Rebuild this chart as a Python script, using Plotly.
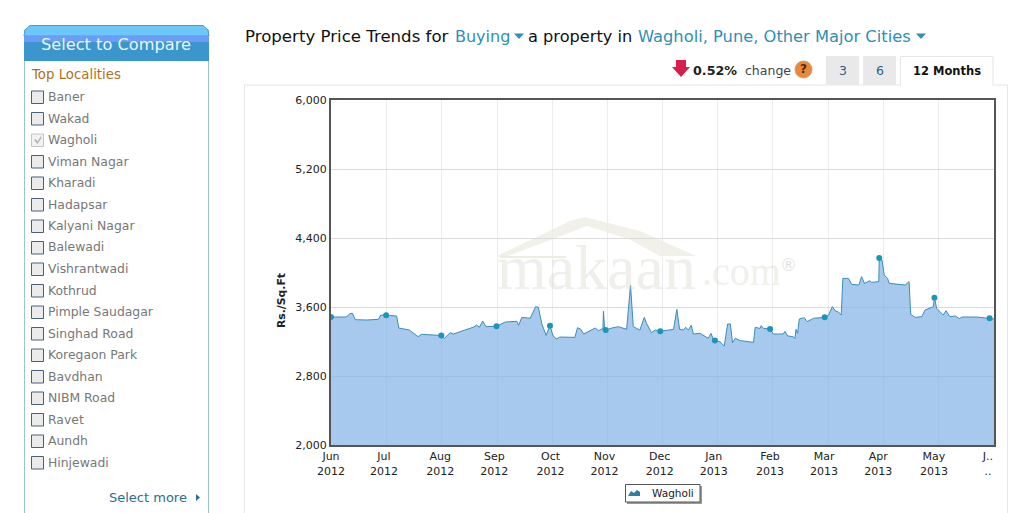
import plotly.graph_objects as go

W, H = 1032, 513

# months since Jun 2012 / price
months = [0.00, 0.28, 0.34, 0.39, 0.44, 0.65, 0.86, 0.90, 1.00, 1.19, 1.23, 1.42, 1.58, 1.64, 1.86, 2.00,
          2.05, 2.16, 2.22, 2.40, 2.59, 2.64, 2.69, 2.75, 2.81, 3.00, 3.16, 3.37, 3.40, 3.46, 3.61, 3.71,
          3.76, 3.82, 3.90, 3.97, 4.02, 4.08, 4.15, 4.42, 4.47, 4.53, 4.58, 4.79, 4.85, 4.93, 4.94, 4.96,
          4.98, 5.09, 5.21, 5.36, 5.43, 5.48, 5.60, 5.68, 5.72, 5.81, 5.88, 5.97, 6.21, 6.27, 6.32, 6.39,
          6.43, 6.48, 6.53, 6.57, 6.69, 6.84, 6.89, 6.93, 6.96, 7.05, 7.13, 7.19, 7.24, 7.28, 7.33, 7.42,
          7.66, 7.69, 7.78, 7.80, 7.84, 7.96, 8.02, 8.20, 8.23, 8.28, 8.38, 8.41, 8.43, 8.46, 8.49, 8.58,
          8.63, 8.75, 8.95, 9.02, 9.09, 9.14, 9.20, 9.25, 9.28, 9.38, 9.44, 9.57, 9.62, 9.67, 9.77, 9.80,
          9.93, 9.94, 9.99, 10.03, 10.09, 10.12, 10.32, 10.41, 10.48, 10.51, 10.59, 10.71, 10.77, 10.86,
          10.92, 10.94, 10.98, 11.10, 11.15, 11.22, 11.32, 11.39, 11.44, 11.71, 11.94, 12.02]
prices = [3484, 3484, 3523, 3527, 3453, 3449, 3457, 3507, 3503, 3496, 3356, 3333, 3256, 3283, 3275, 3271,
          3233, 3302, 3287, 3322, 3368, 3391, 3364, 3438, 3372, 3376, 3426, 3434, 3387, 3480, 3469, 3604,
          3596, 3411, 3271, 3384, 3275, 3229, 3252, 3248, 3360, 3341, 3287, 3356, 3325, 3352, 3554, 3352,
          3333, 3356, 3372, 3341, 3855, 3372, 3333, 3480, 3411, 3302, 3333, 3318, 3341, 3573, 3341, 3333,
          3364, 3333, 3387, 3287, 3295, 3237, 3295, 3225, 3213, 3198, 3148, 3403, 3403, 3186, 3237, 3210,
          3190, 3364, 3352, 3384, 3352, 3345, 3287, 3287, 3318, 3264, 3256, 3233, 3341, 3295, 3461, 3476,
          3430, 3469, 3480, 3507, 3604, 3557, 3542, 3507, 3932, 3932, 3863, 3855, 3952, 3874, 3905, 3886,
          3894, 4168, 4145, 3971, 3932, 3874, 3855, 3855, 3894, 3515, 3480, 3488, 3565, 3584, 3604, 3708,
          3584, 3507, 3557, 3488, 3496, 3465, 3484, 3484, 3469, 3461]

dot_months = [0.00, 1.00, 2.00, 3.00, 3.97, 4.98, 5.97, 6.96, 7.96, 8.95, 9.94, 10.94, 11.94]
dot_prices = [3484, 3503, 3271, 3376, 3384, 3333, 3318, 3213, 3345, 3480, 4168, 3708, 3469]

# the labels drift a little left of the gridlines in the original
tick_pos = [0, 0.96, 1.98, 2.96, 3.98, 4.96, 5.96, 6.94, 7.96, 8.94, 9.92, 10.93, 11.91]
tick_text = ["Jun<br>2012", "Jul<br>2012", "Aug<br>2012", "Sep<br>2012", "Oct<br>2012", "Nov<br>2012",
             "Dec<br>2012", "Jan<br>2013", "Feb<br>2013", "Mar<br>2013", "Apr<br>2013", "May<br>2013", "J..<br>.."]
grid_pos = [1.00, 2.00, 3.01, 4.01, 5.01, 6.01, 7.01, 8.01, 9.02, 10.02, 11.02]
y_ticks = [2000, 2800, 3600, 4400, 5200, 6000]

localities = ["Baner", "Wakad", "Wagholi", "Viman Nagar", "Kharadi", "Hadapsar", "Kalyani Nagar", "Balewadi",
              "Vishrantwadi", "Kothrud", "Pimple Saudagar", "Singhad Road", "Koregaon Park", "Bavdhan",
              "NIBM Road", "Ravet", "Aundh", "Hinjewadi"]

FONT = "DejaVu Sans"
BLUE = "#2f8fb5"


def px(x):
    return x / W


def py(y):
    return 1 - y / H


shapes = []
notes = []


def box(x0, y0, x1, y1, fill=None, line=None, lw=1, layer="above"):
    shapes.append(dict(type="rect", xref="paper", yref="paper", x0=px(x0), x1=px(x1), y0=py(y0), y1=py(y1),
                       fillcolor=fill, line=dict(color=line, width=lw if line else 0), layer=layer))


def poly(points, fill, line=None, layer="above", width=1):
    d = "M " + " L ".join(f"{px(a):.5f},{py(b):.5f}" for a, b in points) + " Z"
    shapes.append(dict(type="path", xref="paper", yref="paper", path=d, fillcolor=fill,
                       line=dict(color=line, width=width if line else 0), layer=layer))


def text(x, y, s, size=13, color="#666666", anchor="left", family=FONT, angle=0):
    notes.append(dict(xref="paper", yref="paper", x=px(x), y=py(y), text=s, showarrow=False, xanchor=anchor,
                      yanchor="middle", align=anchor, textangle=angle,
                      font=dict(family=family, size=size, color=color)))


# sidebar
box(24.5, 30, 208.5, 520, fill="white", line="#9cc5d3")
poly([(24, 36), (25, 30), (30, 25.5), (203, 25.5), (208, 30), (209, 36)], "#6cc8f8", "#4f9cc4")
box(24, 36, 209, 42, fill="#6a9cf8")
box(24, 42, 209, 61, fill="#3a96cc")
text(116, 44, "Select to Compare", size=16.2, color="#e9f7ff", anchor="center")
text(29, 75, "Top Localities", size=13.3, color="#b0701a")
for i, name in enumerate(localities):
    yy = 97 + i * 21.5
    if name == "Wagholi":
        box(31.5, yy - 6, 43.5, yy + 6.5, fill="#f2f2f2", line="#c4c4c4")
        poly([(34, yy), (36, yy - 1), (37.5, yy + 1.5), (41, yy - 4), (41.5, yy - 2), (37.5, yy + 4)], "#b5b5b5")
    else:
        box(31.5, yy - 6, 43.5, yy + 6.5, fill="#ebebeb", line="#4a6078")
    text(46, yy - 0.5, name, size=12.4, color="#777777")
text(107, 497, "Select more", size=13, color="#2a7090")
poly([(196, 494), (200, 497.5), (196, 501)], "#2a7090")

# page heading
text(242.5, 36, "Property Price Trends for", size=16.6, color="#111111")
text(453, 36, "Buying", size=16, color=BLUE)
poly([(514, 33.5), (524, 33.5), (519, 39)], BLUE)
text(526, 36, "a property in", size=16.2, color="#111111")
text(636, 36, "Wagholi, Pune, Other Major Cities", size=16.3, color=BLUE)
poly([(916, 33.5), (926, 33.5), (921, 39)], BLUE)

# change note and month tabs
poly([(676, 60), (686, 60), (686, 67), (690, 67), (681, 77), (672, 67), (676, 67)], "#d81e4a")
text(691, 70, "<b>0.52%</b>", size=12.7, color="#222222")
text(743, 70, "change", size=12.5, color="#444444")
shapes.append(dict(type="circle", xref="paper", yref="paper", x0=px(795), x1=px(812), y0=py(61), y1=py(78),
                   fillcolor="#e8883a", line=dict(color="#c9a27c", width=1)))
text(803.5, 69.5, "<b>?</b>", size=12, color="#4a2a10", anchor="center")
box(244.5, 85, 1007.5, 520, fill="white", line="#e6e6e6", layer="below")
box(826, 56, 859, 85, fill="#e9e9e9")
box(863, 56, 896, 85, fill="#e9e9e9")
box(900.5, 56.5, 993, 86, fill="white", line="#e6e6e6")
box(901, 84, 992.5, 87, fill="white")
text(842.5, 71, "3", size=12.5, color="#2f5f88", anchor="center")
text(879.5, 71, "6", size=12.5, color="#2f5f88", anchor="center")
text(946.5, 71, "<b>12 Months</b>", size=11.5, color="#111111", anchor="center")

# watermark
poly([(497, 256), (570, 221), (585, 217), (696, 256), (682, 256), (587, 226), (503, 258)], "#f1f1e9", layer="below")
poly([(585, 217), (640, 231), (696, 256), (660, 256), (605, 226)], "#f1f1e9", layer="below")
poly([(500, 256), (566, 256), (566, 258), (500, 258)], "#ececdf", layer="below")
text(495, 267, "makaan", size=64, color="rgba(215,215,205,0.4)", family="Liberation Serif")
text(700, 271, ".com", size=40, color="rgba(215,215,205,0.4)", family="Liberation Serif")
text(788, 265, "®", size=17, color="rgba(205,205,205,0.6)", anchor="center")

# legend box
box(627, 486, 702, 504, fill="#999999")
box(625.5, 484.5, 700, 502, fill="white", line="#555555")
poly([(628, 496), (631, 491), (634, 493), (637, 490), (640, 492), (640, 496)], "#2f7fa5")
text(650, 492.5, "Wagholi", size=10.5, color="#222222")

# axis title sits below the plot's middle in the original
text(281, 301, "<b>Rs./Sq.Ft</b>", size=10.8, color="#222222", anchor="center", angle=-90)

fig = go.Figure()
fig.add_trace(go.Scatter(x=months, y=prices, mode="lines", name="Wagholi", fill="tozeroy",
                         fillcolor="rgba(130,178,230,0.7)", line=dict(color="#3d8dba", width=1)))
fig.add_trace(go.Scatter(x=dot_months, y=dot_prices, mode="markers",
                         marker=dict(color="#1a96b8", size=6)))

fig.update_layout(
    width=W, height=H, margin=dict(l=0, r=0, t=0, b=0), autosize=False, showlegend=False,
    paper_bgcolor="white", plot_bgcolor="white",
    font=dict(family=FONT, size=10, color="#222222"),
    shapes=shapes, annotations=notes,
)
fig.update_xaxes(domain=[px(331), px(994)], range=[0, 12.02], tickmode="array", tickvals=tick_pos,
                 ticktext=tick_text, showgrid=False, zeroline=False, showline=True,
                 minor=dict(tickmode="array", tickvals=grid_pos, showgrid=True, gridcolor="#ececec", ticks=""),
                 linecolor="#555555", linewidth=2, mirror=True, ticks="", tickfont=dict(size=11),
                 automargin=False)
fig.update_yaxes(domain=[py(445), py(100)], range=[2000, 6000], tickmode="array", tickvals=y_ticks,
                 tickformat=",d", showgrid=True, gridcolor="#dcdcdc", zeroline=False, showline=True,
                 linecolor="#555555", linewidth=2, mirror=True, ticks="", tickfont=dict(size=11),
                 automargin=False)

fig.write_html("out.html", config={"displayModeBar": False},
               post_script="document.body.style.margin='0';")
